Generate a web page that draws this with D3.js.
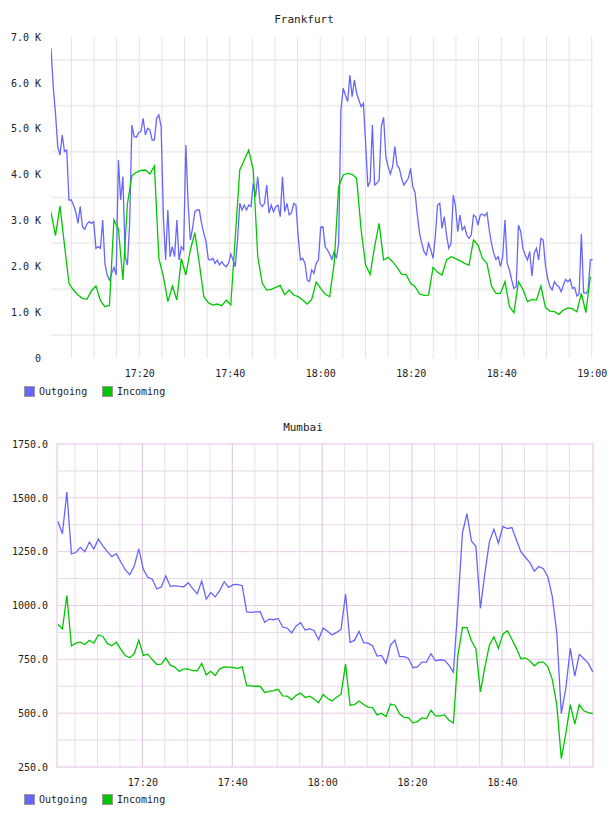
<!DOCTYPE html>
<html>
<head>
<meta charset="utf-8">
<script src="https://cdn.jsdelivr.net/npm/d3@7"></script>
<style>
  body { margin: 0; background: #fff; }
  text { font-family: "DejaVu Sans Mono", monospace; fill: #222; }
</style>
</head>
<body>
<svg></svg>
<script>
let width = 608, height = 816;

// Frankfurt: outgoing sampled every ~30s, incoming every ~60s, from 17:00:30
const fraOutgoing = [
  6753, 5917, 5335, 4609, 4427, 4863, 4500, 4536, 3445, 3445,
  3336, 3191, 2936, 3300, 2864, 2806, 2922, 2973, 2936, 2973,
  2391, 2428, 2391, 3009, 2064, 1810, 1701, 1846, 1977, 1810,
  4318, 3445, 3954, 2210, 2028, 2936, 5081, 4827, 4812, 4914,
  4936, 5226, 4863, 5008, 4972, 4754, 4754, 5226, 5299, 5045,
  3082, 2137, 3227, 2210, 2428, 2210, 3009, 2137, 2428, 2355,
  4645, 3373, 2573, 2827, 3191, 3227, 3227, 2936, 2718, 2537,
  2151, 2137, 2173, 2064, 2137, 2028, 2100, 2028, 1991, 2064,
  2268, 2137, 1991, 2573, 3373, 3227, 3336, 3227, 3336, 3300,
  3809, 3518, 3954, 3373, 3300, 3373, 3772, 3155, 3336, 3191,
  3300, 3336, 3082, 3954, 3191, 3373, 3118, 3169, 3373, 3336,
  2645, 2137, 2173, 2064, 1701, 1664, 1919, 1846, 2064, 2137,
  2849, 2864,
  2428, 2355, 2268, 2151, 2319, 2173, 2500, 5408, 5881, 5735,
  5590, 6171, 5699, 6063, 5772, 5626, 5481, 5554, 4681, 3736,
  3845, 5081, 3772, 3809, 3881, 5045, 5248, 4390, 4172, 4012,
  4172, 4609, 4209, 4136, 3918, 3772, 3845, 3918, 4136, 3736,
  3605, 3118, 2718, 2500, 2319, 2246, 2500, 2355, 2173, 2645,
  3336, 3373, 2827, 3082, 2682, 2391, 2500, 3554, 3300, 2755,
  3118, 2791, 2864, 2682, 2609, 2682, 3118, 3082, 2900, 3118,
  3140, 3096, 3169, 2791, 2500, 2282, 2151, 2210, 1991, 2210,
  3009, 2064, 1919, 1701, 1519, 1555, 2900, 2755, 2391, 2246,
  2137, 2319, 1788, 2282, 2391, 2137, 2609, 2573, 2028, 1737,
  1555, 1483, 1664, 1591, 1555, 1446, 1591, 1715, 1664, 1715,
  1519, 1541, 1352, 1395, 2704, 1424, 1410, 1468, 2137, 2151
]
const fraIncoming = [
  3176, 2667, 3314, 2460, 1628, 1482, 1373, 1301, 1279, 1468,
  1570, 1250, 1119, 1148, 3009, 2813, 1701, 3358, 3976, 4049,
  4092, 4100, 4012, 4187, 2173, 1773, 1228, 1570, 1264, 2166,
  1810, 2355, 2733, 2064, 1337, 1206, 1155, 1177, 1141, 1264,
  1155, 2645, 4100, 4318, 4536, 4100, 2210, 1628, 1482, 1497,
  1541, 1584, 1381, 1482, 1373, 1337, 1264, 1177, 1279, 1657,
  1519,
  1395, 1337, 2064, 3736, 3991, 4027, 4005, 3918, 2791, 2028,
  1824, 2428, 2936, 2137, 2195, 2100, 1977, 1824, 1824, 1628,
  1555, 1395, 1366, 1373, 1977, 1868, 1810, 2137, 2209, 2166,
  2122, 2064, 2028, 2573, 2464, 2173, 2064, 1570, 1410, 1410,
  1664, 1119, 988, 1664, 1497, 1228, 1279, 1264, 1570, 1104,
  1024, 1010, 952, 1046, 1090, 1075, 1010, 1410, 988, 1773
]

// Mumbai: one sample a minute from 17:01:12
const mumOutgoing = [
  1390, 1333, 1527, 1240, 1246, 1270, 1250, 1295, 1263, 1308,
  1277, 1250, 1227, 1241, 1202, 1165, 1143, 1184, 1263, 1168,
  1131, 1122, 1077, 1086, 1137, 1089, 1092, 1089, 1087, 1106,
  1078, 1055, 1114, 1029, 1060, 1040, 1069, 1111, 1084, 1097,
  1098, 1092, 970, 968, 970, 971, 922, 937, 934, 940,
  900, 895, 873, 905, 920, 886, 892, 883, 841, 895,
  880, 863, 875, 889, 1053, 829, 838, 880, 827, 825,
  813, 765, 768, 731, 816, 839, 763, 763, 754, 711,
  715, 737, 737, 776, 743, 748, 745, 723, 690, 1000,
  1336, 1427, 1300, 1274, 987, 1150, 1297, 1354, 1289, 1367,
  1357, 1362, 1305, 1250, 1224, 1199, 1160, 1181, 1171, 1134,
  1041, 870, 498, 615, 801, 672, 773, 754, 731, 692
]
const mumIncoming = [
  912, 891, 1046, 812, 825, 830, 819, 838, 825, 863,
  856, 824, 813, 829, 796, 768, 757, 777, 839, 768,
  774, 749, 726, 728, 757, 723, 714, 694, 706, 704,
  698, 697, 731, 678, 694, 675, 706, 715, 714, 712,
  708, 715, 628, 627, 625, 625, 596, 601, 605, 611,
  580, 579, 563, 583, 593, 573, 579, 566, 548, 587,
  568, 557, 574, 588, 728, 537, 540, 556, 540, 528,
  526, 492, 500, 484, 542, 537, 497, 480, 478, 455,
  461, 478, 475, 514, 487, 487, 492, 467, 455, 770,
  898, 897, 836, 798, 599, 715, 816, 855, 801, 867,
  883, 843, 801, 753, 757, 742, 720, 737, 737, 715,
  656, 537, 289, 405, 540, 449, 540, 511, 503, 498
]

const fraYTicks = [0, 1000, 2000, 3000, 4000, 5000, 6000, 7000]
const mumYTicks = [250, 500, 750, 1000, 1250, 1500, 1750]
const fraTimeTicks = ["17:20", "17:40", "18:00", "18:20", "18:40", "19:00"]
const mumTimeTicks = ["17:20", "17:40", "18:00", "18:20", "18:40"]
const seriesNames = ["Outgoing", "Incoming"]
const seriesColors = ["#6666ff", "#00c800"]

let svg = d3.select("svg")
    .attr("width", width)
    .attr("height", height);

let day = (h, m, s) => new Date(2020, 0, 1, h, m, s)
let parseHM = d3.timeParse("%H:%M")
let toTime = str => { let p = parseHM(str); return day(p.getHours(), p.getMinutes(), 0) }

// turn a value list into [time, value] pairs with a fixed sample step (seconds)
function series(values, start, step) {
    return values.map((v, i) => ({ t: new Date(start.getTime() + i * step * 1000), v: v }))
}

function legend(y) {
    seriesNames.forEach((name, i) => {
        let lx = 24 + i * 78
        svg.append("rect")
            .attr("x", lx + 0.5).attr("y", y - 5.5)
            .attr("width", 10).attr("height", 10)
            .style("fill", seriesColors[i])
            .style("stroke", "#999")
        svg.append("text")
            .attr("x", lx + 15).attr("y", y)
            .attr("dominant-baseline", "middle")
            .style("font-size", "10px")
            .text(name)
    })
}

function lines(g, x, y, data, clipId, box) {
    svg.append("clipPath").attr("id", clipId)
        .append("rect")
        .attr("x", box[0]).attr("y", box[1] - 2)
        .attr("width", box[2] - box[0]).attr("height", box[3] - box[1] + 4)

    let line = d3.line().x(d => x(d.t)).y(d => y(d.v))
    data.forEach((d, i) => {
        g.append("path")
            .datum(d)
            .attr("clip-path", `url(#${clipId})`)
            .attr("fill", "none")
            .attr("stroke", seriesColors[i])
            .attr("stroke-width", 1.3)
            .attr("d", line)
    })
}

// ---------- Frankfurt ----------
{
    let left = 51, right = 593, top = 37, bottom = 358
    let x = d3.scaleTime().domain([day(17, 0, 30), day(19, 0, 17)]).range([left, right])
    let y = d3.scaleLinear().domain([0, 7000]).range([bottom, top])
    let g = svg.append("g")

    // horizontal grid sits half way between the labels
    g.selectAll(".hgrid")
        .data(d3.range(500, 7000, 1000))
        .enter().append("line")
        .attr("x1", left).attr("x2", right)
        .attr("y1", d => y(d)).attr("y2", d => y(d))
        .style("stroke", "#efefef").style("stroke-width", 2)

    g.selectAll(".vgrid")
        .data(d3.timeMinute.every(5).range(day(17, 5, 0), day(19, 0, 1)))
        .enter().append("line")
        .attr("x1", d => x(d)).attr("x2", d => x(d))
        .attr("y1", top).attr("y2", bottom)
        .style("stroke", "#e4e4e4")

    lines(g, x, y, [series(fraOutgoing, day(17, 0, 30), 29.8), series(fraIncoming, day(17, 0, 30), 59.6)],
        "clipFra", [left, top, right, bottom])

    let yAxis = g.append("g")
        .attr("transform", `translate(${left - 7},0)`)
        .call(d3.axisLeft(y).tickValues(fraYTicks).tickSize(0)
            .tickFormat(d => d === 0 ? "0" : (d / 1000).toFixed(1) + " K"))
    let xAxis = g.append("g")
        .attr("transform", `translate(0,${bottom + 9})`)
        .call(d3.axisBottom(x).tickValues(fraTimeTicks.map(toTime)).tickSize(0)
            .tickFormat(d3.timeFormat("%H:%M")))
    ;[yAxis, xAxis].forEach(a => {
        a.select(".domain").remove()
        a.selectAll("text").style("font-family", "DejaVu Sans Mono").style("font-size", "10px").style("fill", "#222")
    })

    svg.append("text")
        .attr("x", 304).attr("y", 20)
        .attr("text-anchor", "middle").attr("dominant-baseline", "middle")
        .style("font-size", "11px")
        .text("Frankfurt")

    legend(392)
}

// ---------- Mumbai ----------
{
    let left = 57, right = 593, top = 444, bottom = 767
    let x = d3.scaleTime().domain([day(17, 1, 0), day(19, 0, 15)]).range([left, right])
    let y = d3.scaleLinear().domain([250, 1750]).range([bottom, top])
    let g = svg.append("g")

    g.selectAll(".hgrid")
        .data(d3.range(375, 1750, 125))
        .enter().append("line")
        .attr("x1", left).attr("x2", right)
        .attr("y1", d => y(d)).attr("y2", d => y(d))
        .style("stroke", d => d % 250 === 0 ? "#e8cce8" : "#e2dae2")

    g.selectAll(".vgrid")
        .data(d3.timeMinute.every(5).range(day(17, 5, 0), day(19, 0, 0)))
        .enter().append("line")
        .attr("x1", d => x(d)).attr("x2", d => x(d))
        .attr("y1", top).attr("y2", bottom)
        .style("stroke", d => d.getMinutes() % 20 === 0 ? "#dcc2dc" : "#e6e0e6")

    g.append("rect")
        .attr("x", left).attr("y", top)
        .attr("width", right - left).attr("height", bottom - top)
        .style("fill", "none")
        .style("stroke", "#ecd4ec")
        .style("stroke-width", 1.5)

    lines(g, x, y, [series(mumOutgoing, day(17, 1, 12), 60), series(mumIncoming, day(17, 1, 12), 60)],
        "clipMum", [left, top, right, bottom])

    let yAxis = g.append("g")
        .attr("transform", `translate(${left - 6},0)`)
        .call(d3.axisLeft(y).tickValues(mumYTicks).tickSize(0).tickFormat(d3.format(".1f")))
    let xAxis = g.append("g")
        .attr("transform", `translate(0,${bottom + 9})`)
        .call(d3.axisBottom(x).tickValues(mumTimeTicks.map(toTime)).tickSize(0)
            .tickFormat(d3.timeFormat("%H:%M")))
    ;[yAxis, xAxis].forEach(a => {
        a.select(".domain").remove()
        a.selectAll("text").style("font-family", "DejaVu Sans Mono").style("font-size", "10px").style("fill", "#222")
    })

    svg.append("text")
        .attr("x", 303).attr("y", 428)
        .attr("text-anchor", "middle").attr("dominant-baseline", "middle")
        .style("font-size", "11px")
        .text("Mumbai")

    legend(800)
}
</script>
</body>
</html>
